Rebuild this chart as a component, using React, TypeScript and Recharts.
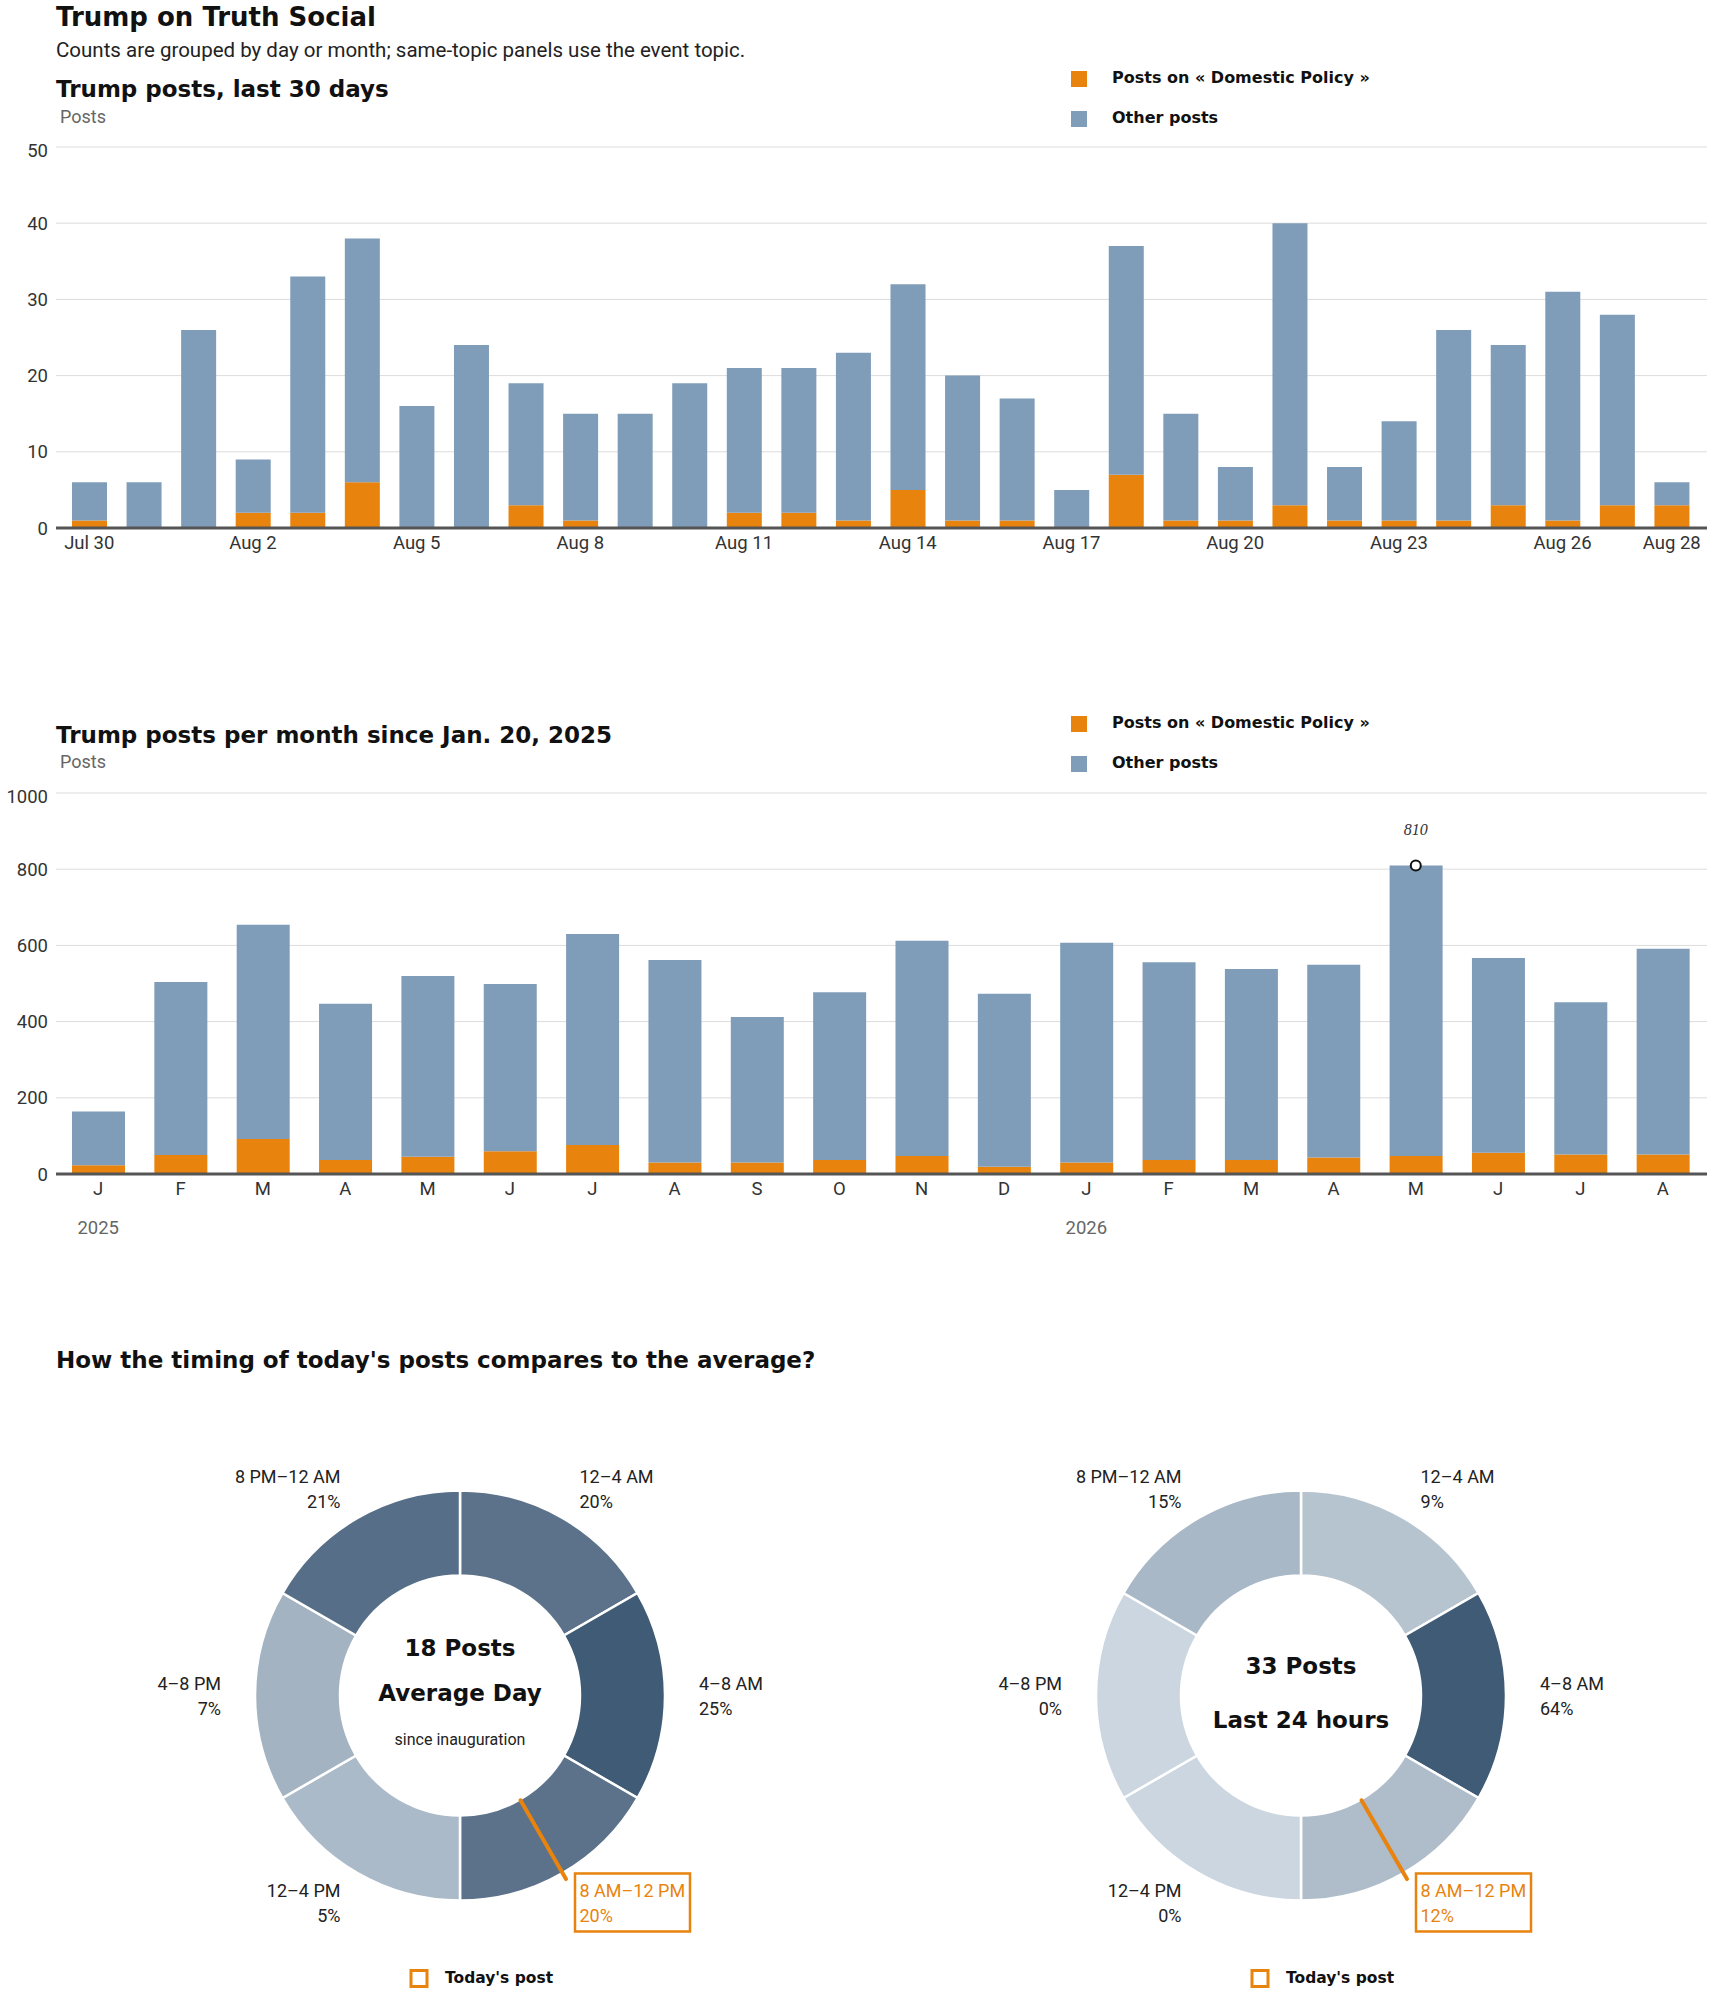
import React from 'react';
import {
  BarChart,
  Bar,
  XAxis,
  YAxis,
  CartesianGrid,
  ReferenceDot,
  PieChart,
  Pie,
  Cell,
} from 'recharts';

const HEAD = '"DejaVu Sans", Verdana, sans-serif';
const BODY = 'Roboto, "Open Sans", Arial, sans-serif';
const ORANGE = '#e8830e';
const BLUE = '#7f9cb8';
const GRID = '#dcdcdc';
const AXIS = '#555';

// --- last 30 days ---
const dayKeys = [
  'Jul 30', 'Jul 31', 'Aug 1', 'Aug 2', 'Aug 3', 'Aug 4', 'Aug 5', 'Aug 6', 'Aug 7', 'Aug 8',
  'Aug 9', 'Aug 10', 'Aug 11', 'Aug 12', 'Aug 13', 'Aug 14', 'Aug 15', 'Aug 16', 'Aug 17', 'Aug 18',
  'Aug 19', 'Aug 20', 'Aug 21', 'Aug 22', 'Aug 23', 'Aug 24', 'Aug 25', 'Aug 26', 'Aug 27', 'Aug 28',
];
const dayTotals = [6, 6, 26, 9, 33, 38, 16, 24, 19, 15, 15, 19, 21, 21, 23, 32, 20, 17, 5, 37, 15, 8, 40, 8, 14, 26, 24, 31, 28, 6];
const dayDomestic = [1, 0, 0, 2, 2, 6, 0, 0, 3, 1, 0, 0, 2, 2, 1, 5, 1, 1, 0, 7, 1, 1, 3, 1, 1, 1, 3, 1, 3, 3];
const dayTicks = ['Jul 30', 'Aug 2', 'Aug 5', 'Aug 8', 'Aug 11', 'Aug 14', 'Aug 17', 'Aug 20', 'Aug 23', 'Aug 26', 'Aug 28'];
const dayYTicks = [0, 10, 20, 30, 40, 50];

// --- per month since Jan. 20, 2025 ---
const monthKeys = [
  '2025-01', '2025-02', '2025-03', '2025-04', '2025-05', '2025-06', '2025-07', '2025-08', '2025-09', '2025-10',
  '2025-11', '2025-12', '2026-01', '2026-02', '2026-03', '2026-04', '2026-05', '2026-06', '2026-07', '2026-08',
];
const monthLetters = ['J', 'F', 'M', 'A', 'M', 'J', 'J', 'A', 'S', 'O', 'N', 'D', 'J', 'F', 'M', 'A', 'M', 'J', 'J', 'A'];
const monthYears = ['2025', '', '', '', '', '', '', '', '', '', '', '', '2026', '', '', '', '', '', '', ''];
const monthTotals = [164, 504, 654, 447, 520, 499, 630, 562, 412, 477, 612, 473, 607, 556, 538, 549, 810, 567, 451, 591];
const monthDomestic = [23, 50, 92, 37, 45, 60, 76, 30, 30, 37, 47, 19, 30, 37, 37, 43, 47, 56, 51, 51];
const monthYTicks = [0, 200, 400, 600, 800, 1000];

// --- timing donuts ---
const slotLabels = ['12–4 AM', '4–8 AM', '8 AM–12 PM', '12–4 PM', '4–8 PM', '8 PM–12 AM'];
const slotHours = [4, 4, 4, 4, 4, 4];
const averageShares = [20, 25, 20, 5, 7, 21];
const last24Shares = [9, 64, 12, 0, 0, 15];
const todaySlot = '8 AM–12 PM';
const averagePostsPerDay = 18;
const last24Posts = 33;

const averageColors = ['#5b728a', '#3f5b76', '#5b728a', '#abbac8', '#a3b3c2', '#566e87'];
const last24Colors = ['#b6c4d0', '#3f5b76', '#afbdca', '#cbd6e0', '#cbd6e0', '#a8b8c7'];

const dayRows = dayKeys.map((key, i) => ({ key, domestic: dayDomestic[i], other: dayTotals[i] - dayDomestic[i] }));
const monthRows = monthKeys.map((key, i) => ({ key, domestic: monthDomestic[i], other: monthTotals[i] - monthDomestic[i] }));
const peakIdx = monthTotals.indexOf(Math.max(...monthTotals));

const DONUT_CY = 295.5;
const DONUT_TOP = 1400;
const LEFT_CX = 460;
const RIGHT_CX = 446;
const RAD = Math.PI / 180;

const tickStyle = { fontSize: 18.5, fill: '#333', fontFamily: BODY };

function makeSlotLabel(shares: number[]) {
  return (props: any) => {
    const { cx, cy, midAngle, innerRadius, outerRadius, index } = props;
    const cos = Math.cos(-midAngle * RAD);
    const sin = Math.sin(-midAngle * RAD);
    const r = outerRadius + 34;
    const x = cx + r * cos;
    const y = cy + r * sin;
    const anchor = cos > 0.01 ? 'start' : cos < -0.01 ? 'end' : 'middle';
    const hot = slotLabels[index] === todaySlot;
    const color = hot ? ORANGE : '#222';
    return (
      <g key={`slot-${index}`}>
        {hot && (
          <line
            x1={cx + (innerRadius + 1) * cos}
            y1={cy + (innerRadius + 1) * sin}
            x2={cx + (outerRadius + 7) * cos}
            y2={cy + (outerRadius + 7) * sin}
            stroke={ORANGE}
            strokeWidth={4}
            strokeLinecap="round"
          />
        )}
        {hot && <rect x={x - 4.5} y={y - 29} width={115} height={58} fill="none" stroke={ORANGE} strokeWidth={2.5} />}
        <text x={x} y={y - 5.5} textAnchor={anchor} fontSize={18} fontFamily={BODY} fill={color}>
          {slotLabels[index]}
        </text>
        <text x={x} y={y + 19.5} textAnchor={anchor} fontSize={18} fontFamily={BODY} fill={color}>
          {shares[index]}%
        </text>
      </g>
    );
  };
}

function Donut({ shares, colors, cx }: { shares: number[]; colors: string[]; cx: number }) {
  const rows = slotLabels.map((slot, i) => ({ slot, hours: slotHours[i], share: shares[i] }));
  return (
    <PieChart width={855} height={593} margin={{ top: 0, right: 0, bottom: 0, left: 0 }}>
      <Pie
        data={rows}
        dataKey="hours"
        nameKey="slot"
        cx={cx}
        cy={DONUT_CY}
        innerRadius={120}
        outerRadius={205}
        startAngle={90}
        endAngle={-270}
        stroke="#fff"
        strokeWidth={2.5}
        label={makeSlotLabel(shares)}
        labelLine={false}
        isAnimationActive={false}
      >
        {rows.map((r, i) => (
          <Cell key={r.slot} fill={colors[i]} />
        ))}
      </Pie>
    </PieChart>
  );
}

function Legend2({ y }: { y: number }) {
  return (
    <g fontFamily={HEAD} fontWeight="bold" fontSize={16} fill="#111">
      <rect x={1071} y={y - 12} width={16} height={16} fill={ORANGE} />
      <text x={1112} y={y}>Posts on « Domestic Policy »</text>
      <rect x={1071} y={y + 28} width={16} height={16} fill={BLUE} />
      <text x={1112} y={y + 40}>Other posts</text>
    </g>
  );
}

function TodayLegend({ cx }: { cx: number }) {
  return (
    <g>
      <rect x={cx - 49} y={1970.5} width={16} height={16} fill="none" stroke={ORANGE} strokeWidth={3} />
      <text x={cx - 15} y={1983} fontFamily={HEAD} fontWeight="bold" fontSize={15.5} fill="#111">
        Today's post
      </text>
    </g>
  );
}

export default function App() {
  return (
    <div style={{ position: 'absolute', left: 0, top: 0, width: 1710, height: 1993, background: '#fff' }}>
      <div style={{ position: 'absolute', left: 0, top: 140 }}>
        <BarChart width={1710} height={422} data={dayRows} margin={{ top: 7, right: 3, bottom: 2, left: 0 }}>
          <CartesianGrid vertical={false} stroke={GRID} />
          <XAxis
            dataKey="key"
            interval={0}
            height={32}
            padding={{ left: 6, right: 8 }}
            tickLine={false}
            axisLine={{ stroke: AXIS, strokeWidth: 3 }}
            tick={tickStyle}
            tickFormatter={(v: string) => (dayTicks.includes(v) ? v : '')}
          />
          <YAxis
            width={56}
            domain={[0, 50]}
            ticks={dayYTicks}
            tickLine={false}
            axisLine={false}
            tick={tickStyle}
          />
          <Bar dataKey="domestic" stackId="a" fill={ORANGE} barSize={35} isAnimationActive={false} />
          <Bar dataKey="other" stackId="a" fill={BLUE} barSize={35} isAnimationActive={false} />
        </BarChart>
      </div>

      <div style={{ position: 'absolute', left: 0, top: 786 }}>
        <BarChart width={1710} height={459} data={monthRows} margin={{ top: 7, right: 3, bottom: 2, left: 0 }}>
          <CartesianGrid vertical={false} stroke={GRID} />
          <XAxis
            dataKey="key"
            interval={0}
            height={39}
            padding={{ left: 1, right: 3 }}
            tickLine={false}
            axisLine={{ stroke: AXIS, strokeWidth: 3 }}
            tick={tickStyle}
            tickFormatter={(v: string) => monthLetters[monthKeys.indexOf(v)]}
          />
          <XAxis
            xAxisId="year"
            dataKey="key"
            interval={0}
            height={30}
            padding={{ left: 1, right: 3 }}
            tickLine={false}
            axisLine={false}
            tick={{ ...tickStyle, fill: '#666' }}
            tickFormatter={(v: string) => monthYears[monthKeys.indexOf(v)]}
          />
          <YAxis
            width={56}
            domain={[0, 1000]}
            ticks={monthYTicks}
            tickLine={false}
            axisLine={false}
            tick={tickStyle}
          />
          <Bar dataKey="domestic" stackId="a" fill={ORANGE} barSize={53} isAnimationActive={false} />
          <Bar dataKey="other" stackId="a" fill={BLUE} barSize={53} isAnimationActive={false} />
          <ReferenceDot
            x={monthKeys[peakIdx]}
            y={monthTotals[peakIdx]}
            r={5}
            fill="#fff"
            stroke="#111"
            strokeWidth={2}
            label={{
              value: String(monthTotals[peakIdx]),
              position: 'top',
              offset: 25,
              fill: '#333',
              fontSize: 16,
              fontStyle: 'italic',
              fontFamily: '"Liberation Serif", serif',
            }}
          />
        </BarChart>
      </div>

      <div style={{ position: 'absolute', left: 0, top: DONUT_TOP }}>
        <Donut shares={averageShares} colors={averageColors} cx={LEFT_CX} />
      </div>
      <div style={{ position: 'absolute', left: 855, top: DONUT_TOP }}>
        <Donut shares={last24Shares} colors={last24Colors} cx={RIGHT_CX} />
      </div>

      <svg
        width={1710}
        height={1993}
        style={{ position: 'absolute', left: 0, top: 0, pointerEvents: 'none' }}
      >
        <text x={56} y={26} fontFamily={HEAD} fontWeight="bold" fontSize={26} fill="#111">
          Trump on Truth Social
        </text>
        <text x={56} y={57} fontFamily={BODY} fontSize={20.5} fill="#222">
          Counts are grouped by day or month; same-topic panels use the event topic.
        </text>
        <text x={56} y={97} fontFamily={HEAD} fontWeight="bold" fontSize={23} fill="#111">
          Trump posts, last 30 days
        </text>
        <text x={60} y={123} fontFamily={BODY} fontSize={18} fill="#666">
          Posts
        </text>
        <Legend2 y={83} />

        <text x={56} y={743} fontFamily={HEAD} fontWeight="bold" fontSize={23} fill="#111">
          Trump posts per month since Jan. 20, 2025
        </text>
        <text x={60} y={768} fontFamily={BODY} fontSize={18} fill="#666">
          Posts
        </text>
        <Legend2 y={728} />

        <text x={56} y={1368} fontFamily={HEAD} fontWeight="bold" fontSize={23} fill="#111">
          How the timing of today's posts compares to the average?
        </text>

        <g fontFamily={HEAD} fontWeight="bold" fontSize={23} fill="#111" textAnchor="middle">
          <text x={LEFT_CX} y={DONUT_TOP + DONUT_CY - 40}>{averagePostsPerDay} Posts</text>
          <text x={LEFT_CX} y={DONUT_TOP + DONUT_CY + 5}>Average Day</text>
          <text x={855 + RIGHT_CX} y={DONUT_TOP + DONUT_CY - 22}>{last24Posts} Posts</text>
          <text x={855 + RIGHT_CX} y={DONUT_TOP + DONUT_CY + 32}>Last 24 hours</text>
        </g>
        <text
          x={LEFT_CX}
          y={DONUT_TOP + DONUT_CY + 49.5}
          fontFamily={BODY}
          fontSize={16}
          fill="#222"
          textAnchor="middle"
        >
          since inauguration
        </text>
        <TodayLegend cx={LEFT_CX} />
        <TodayLegend cx={855 + RIGHT_CX} />
      </svg>
    </div>
  );
}
